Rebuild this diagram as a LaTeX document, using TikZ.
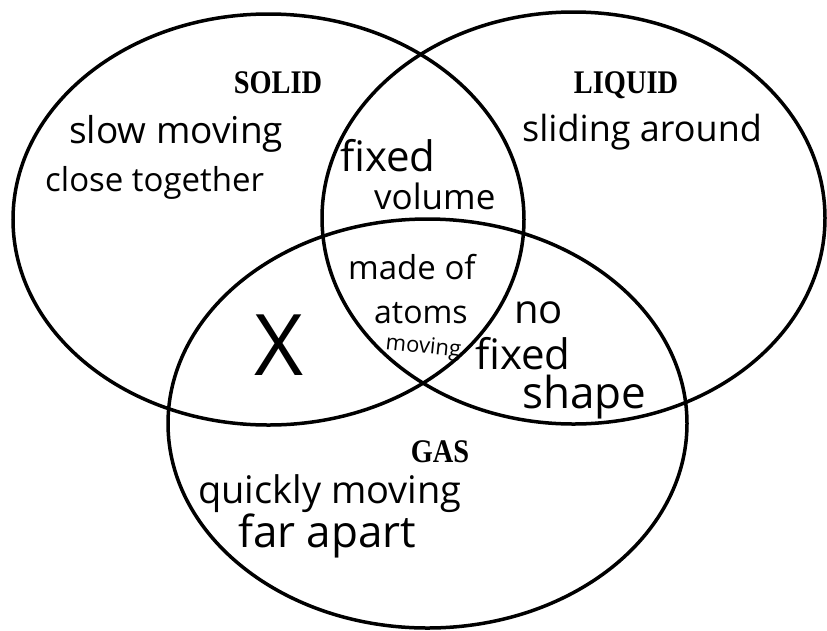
\documentclass[tikz,border=0pt]{standalone}
\usepackage{fontspec}
\setmainfont{Liberation Serif}
\newfontfamily\handfont{Open Sans}
\usetikzlibrary{shapes.geometric}

\begin{document}
\begin{tikzpicture}[x=1pt, y=-1pt,
    phase/.style={ellipse, draw, line width=3.5pt, inner sep=0pt},
    title/.style={font=\bfseries\fontsize{33}{35}\selectfont, anchor=base, xscale=0.86},
    note/.style={font=\handfont\fontsize{#1}{#1}\selectfont, anchor=base west, inner sep=0pt}]
    \useasboundingbox (0,0) rectangle (827,630);

    	\node[phase, minimum width=511pt, minimum height=411pt] (solid) at (268.5,219.5) {};
    	\node[phase, minimum width=503pt, minimum height=412pt] (liquid) at (573.5,218) {};
    	\node[phase, minimum width=519pt, minimum height=409pt] (gas) at (427.5,423.5) {};

    	\node[title] (solidT) at (278,93) {SOLID};
    	\node[title] (liquidT) at (626,93) {LIQUID};
    	\node[title] (gasT) at (440,462) {GAS};

    % solid only
    	\node[note=37] (slow) at (69,143) {slow moving};
    	\node[note=33] (close) at (45,191) {close together};
    % liquid only
    	\node[note=36] (slide) at (522,141) {sliding around};
    % gas only
    	\node[note=38] (quick) at (198,503) {quickly moving};
    	\node[note=44] (far) at (238,547) {far apart};
    % solid and liquid
    	\node[note=42] (fixedA) at (340,171) {fixed};
    	\node[note=35] (volume) at (374,209) {volume};
    % all three
    	\node[note=33] (made) at (348,279) {made of};
    	\node[note=32] (atoms) at (374,323) {atoms};
    	\node[note=22, rotate=-6] (moving) at (385,349) {moving};
    % solid and gas
    	\node[note=85] (none) at (254,375) {X};
    % liquid and gas
    	\node[note=40] (no) at (514,323) {no};
    	\node[note=42] (fixedB) at (475,369) {fixed};
    	\node[note=44] (shape) at (522,408) {shape};

    \end{tikzpicture}
\end{document}
